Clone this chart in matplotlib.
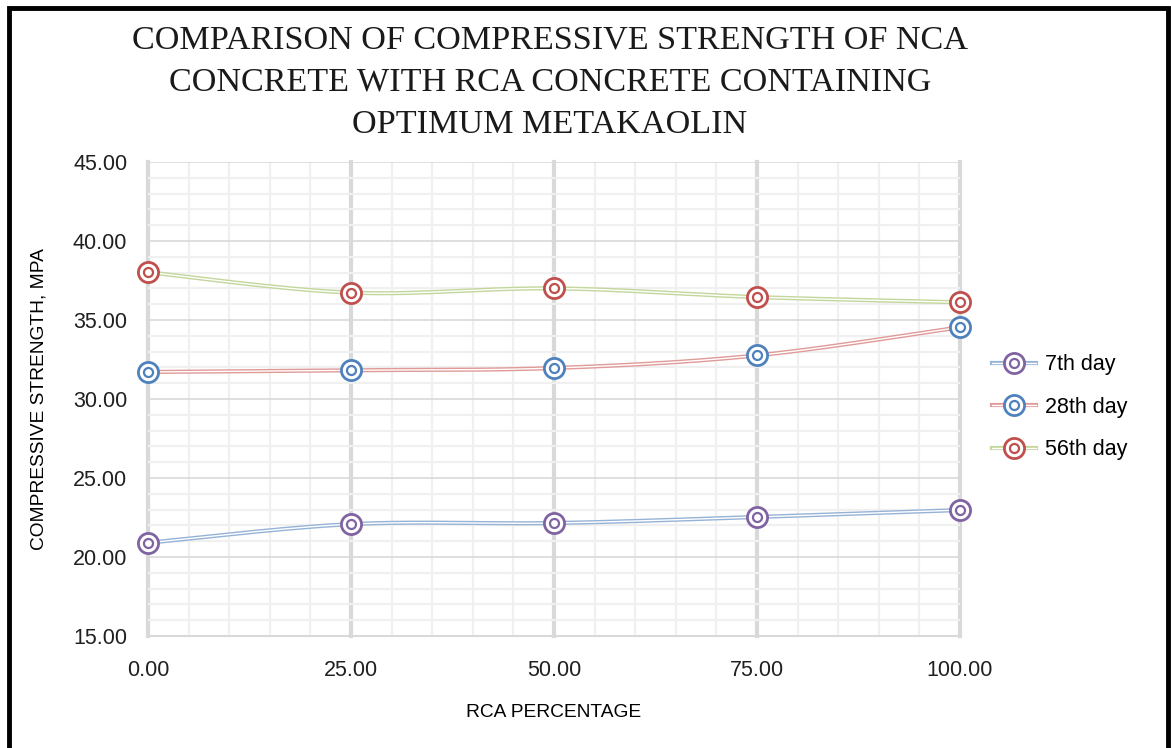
import numpy as np
import matplotlib
matplotlib.use("Agg")
import matplotlib.pyplot as plt
from matplotlib.lines import Line2D
from matplotlib.patches import Rectangle
from matplotlib.ticker import MultipleLocator, FormatStrFormatter

# RCA replacement levels (%) and compressive strength (MPa)
rca_percent = [0, 25, 50, 75, 100]
strength_7 = [20.90, 22.08, 22.15, 22.53, 22.97]
strength_28 = [31.71, 31.82, 31.96, 32.76, 34.54]
strength_56 = [38.02, 36.73, 37.00, 36.45, 36.12]
series_names = ["7th day", "28th day", "56th day"]

line_colors = ["#95B3D7", "#E09A98", "#C3D69B"]
marker_colors = ["#8064A2", "#4F81BD", "#C0504D"]

TITLE = "COMPARISON OF COMPRESSIVE STRENGTH OF NCA\nCONCRETE WITH RCA CONCRETE CONTAINING\nOPTIMUM METAKAOLIN"


def smooth_curve(x, y, steps=40):
    """Bezier smoothing through the points, in the style of spreadsheet 'smoothed lines'."""
    x = np.asarray(x, float)
    y = np.asarray(y, float)
    n = len(x)
    xs, ys = [], []
    for i in range(n - 1):
        p0 = np.array([x[max(i - 1, 0)], y[max(i - 1, 0)]])
        p1 = np.array([x[i], y[i]])
        p2 = np.array([x[i + 1], y[i + 1]])
        p3 = np.array([x[min(i + 2, n - 1)], y[min(i + 2, n - 1)]])
        c1 = p1 + (p2 - p0) / 6.0
        c2 = p2 - (p3 - p1) / 6.0
        t = np.linspace(0, 1, steps)[:, None]
        seg = ((1 - t) ** 3) * p1 + 3 * ((1 - t) ** 2) * t * c1 + 3 * (1 - t) * t ** 2 * c2 + t ** 3 * p2
        xs.append(seg[:, 0])
        ys.append(seg[:, 1])
    return np.concatenate(xs), np.concatenate(ys)


fig = plt.figure(figsize=(11.71, 7.48), dpi=100)
ax = fig.add_axes([148 / 1171, 1 - 636 / 748, (960 - 148) / 1171, (636 - 162) / 748])

ax.set_xlim(0, 100)
ax.set_ylim(15, 45)

# grid
ax.xaxis.set_major_locator(MultipleLocator(25))
ax.xaxis.set_minor_locator(MultipleLocator(5))
ax.yaxis.set_major_locator(MultipleLocator(5))
ax.yaxis.set_minor_locator(MultipleLocator(1))
ax.grid(which="minor", color="#F0F0F0", lw=1.6, zorder=0)
ax.grid(which="major", axis="y", color="#D9D9D9", lw=1.2, zorder=0.5)
ax.grid(which="major", axis="x", color="#D9D9D9", lw=3.0, zorder=0.5)
for gl in ax.get_xgridlines():
    gl.set_clip_on(False)
for s in ax.spines.values():
    s.set_visible(False)
ax.spines["bottom"].set_visible(True)
ax.spines["bottom"].set_color("#D9D9D9")
ax.spines["bottom"].set_linewidth(1.5)
ax.tick_params(which="both", length=0)
ax.tick_params(axis="x", pad=17)
ax.tick_params(axis="y", pad=15)
ax.xaxis.set_major_formatter(FormatStrFormatter("%.2f"))
ax.yaxis.set_major_formatter(FormatStrFormatter("%.2f"))
for lab in ax.get_xticklabels() + ax.get_yticklabels():
    lab.set_fontfamily("Liberation Sans")
    lab.set_fontsize(15.5)
    lab.set_color("#202020")

handles = []
for ys, lc, mc in zip([strength_7, strength_28, strength_56], line_colors, marker_colors):
    sx, sy = smooth_curve(rca_percent, ys)
    ax.plot(sx, sy, color=lc, lw=3.0, solid_capstyle="butt", zorder=3, clip_on=False)
    ax.plot(sx, sy, color="white", lw=1.0, solid_capstyle="butt", zorder=3.1, clip_on=False)
    ax.plot(rca_percent, ys, ls="none", marker="o", ms=14.5, mfc="white", mec=mc, mew=2.0,
            zorder=4, clip_on=False)
    ax.plot(rca_percent, ys, ls="none", marker="o", ms=6.5, mfc="none", mec=mc, mew=1.6,
            zorder=4.1, clip_on=False)
    handles.append((
        Line2D([], [], color=lc, lw=3.0),
        Line2D([], [], color="white", lw=1.0),
        Line2D([], [], ls="none", marker="o", ms=14.5, mfc="white", mec=mc, mew=2.0),
        Line2D([], [], ls="none", marker="o", ms=6.5, mfc="none", mec=mc, mew=1.6),
    ))

leg = fig.legend(handles, series_names, loc="upper left", bbox_to_anchor=(977 / 1171, 1 - 339 / 748),
                 frameon=False, prop={"family": "Liberation Sans", "size": 15.5},
                 handlelength=2.05, handletextpad=0.4, labelspacing=1.0, borderpad=0.2)

ax.set_xlabel("RCA PERCENTAGE", fontfamily="Liberation Sans", fontsize=13.8, labelpad=17)
ax.set_ylabel("COMPRESSIVE STRENGTH, MPA", fontfamily="Liberation Sans", fontsize=13.8, labelpad=18)

fig.text(550 / 1171, 1 - 25 / 748, TITLE, ha="center", va="top", fontfamily="Liberation Serif",
         fontsize=24.6, linespacing=1.5, color="#1a1a1a")

# outer frame around the chart
fig.patches.append(Rectangle((9 / 1171, -0.05), (1168 - 9) / 1171, 1 - 8 / 748 + 0.05,
                             transform=fig.transFigure, fill=False, ec="black", lw=3.5))

fig.savefig("out.png", dpi=100)
